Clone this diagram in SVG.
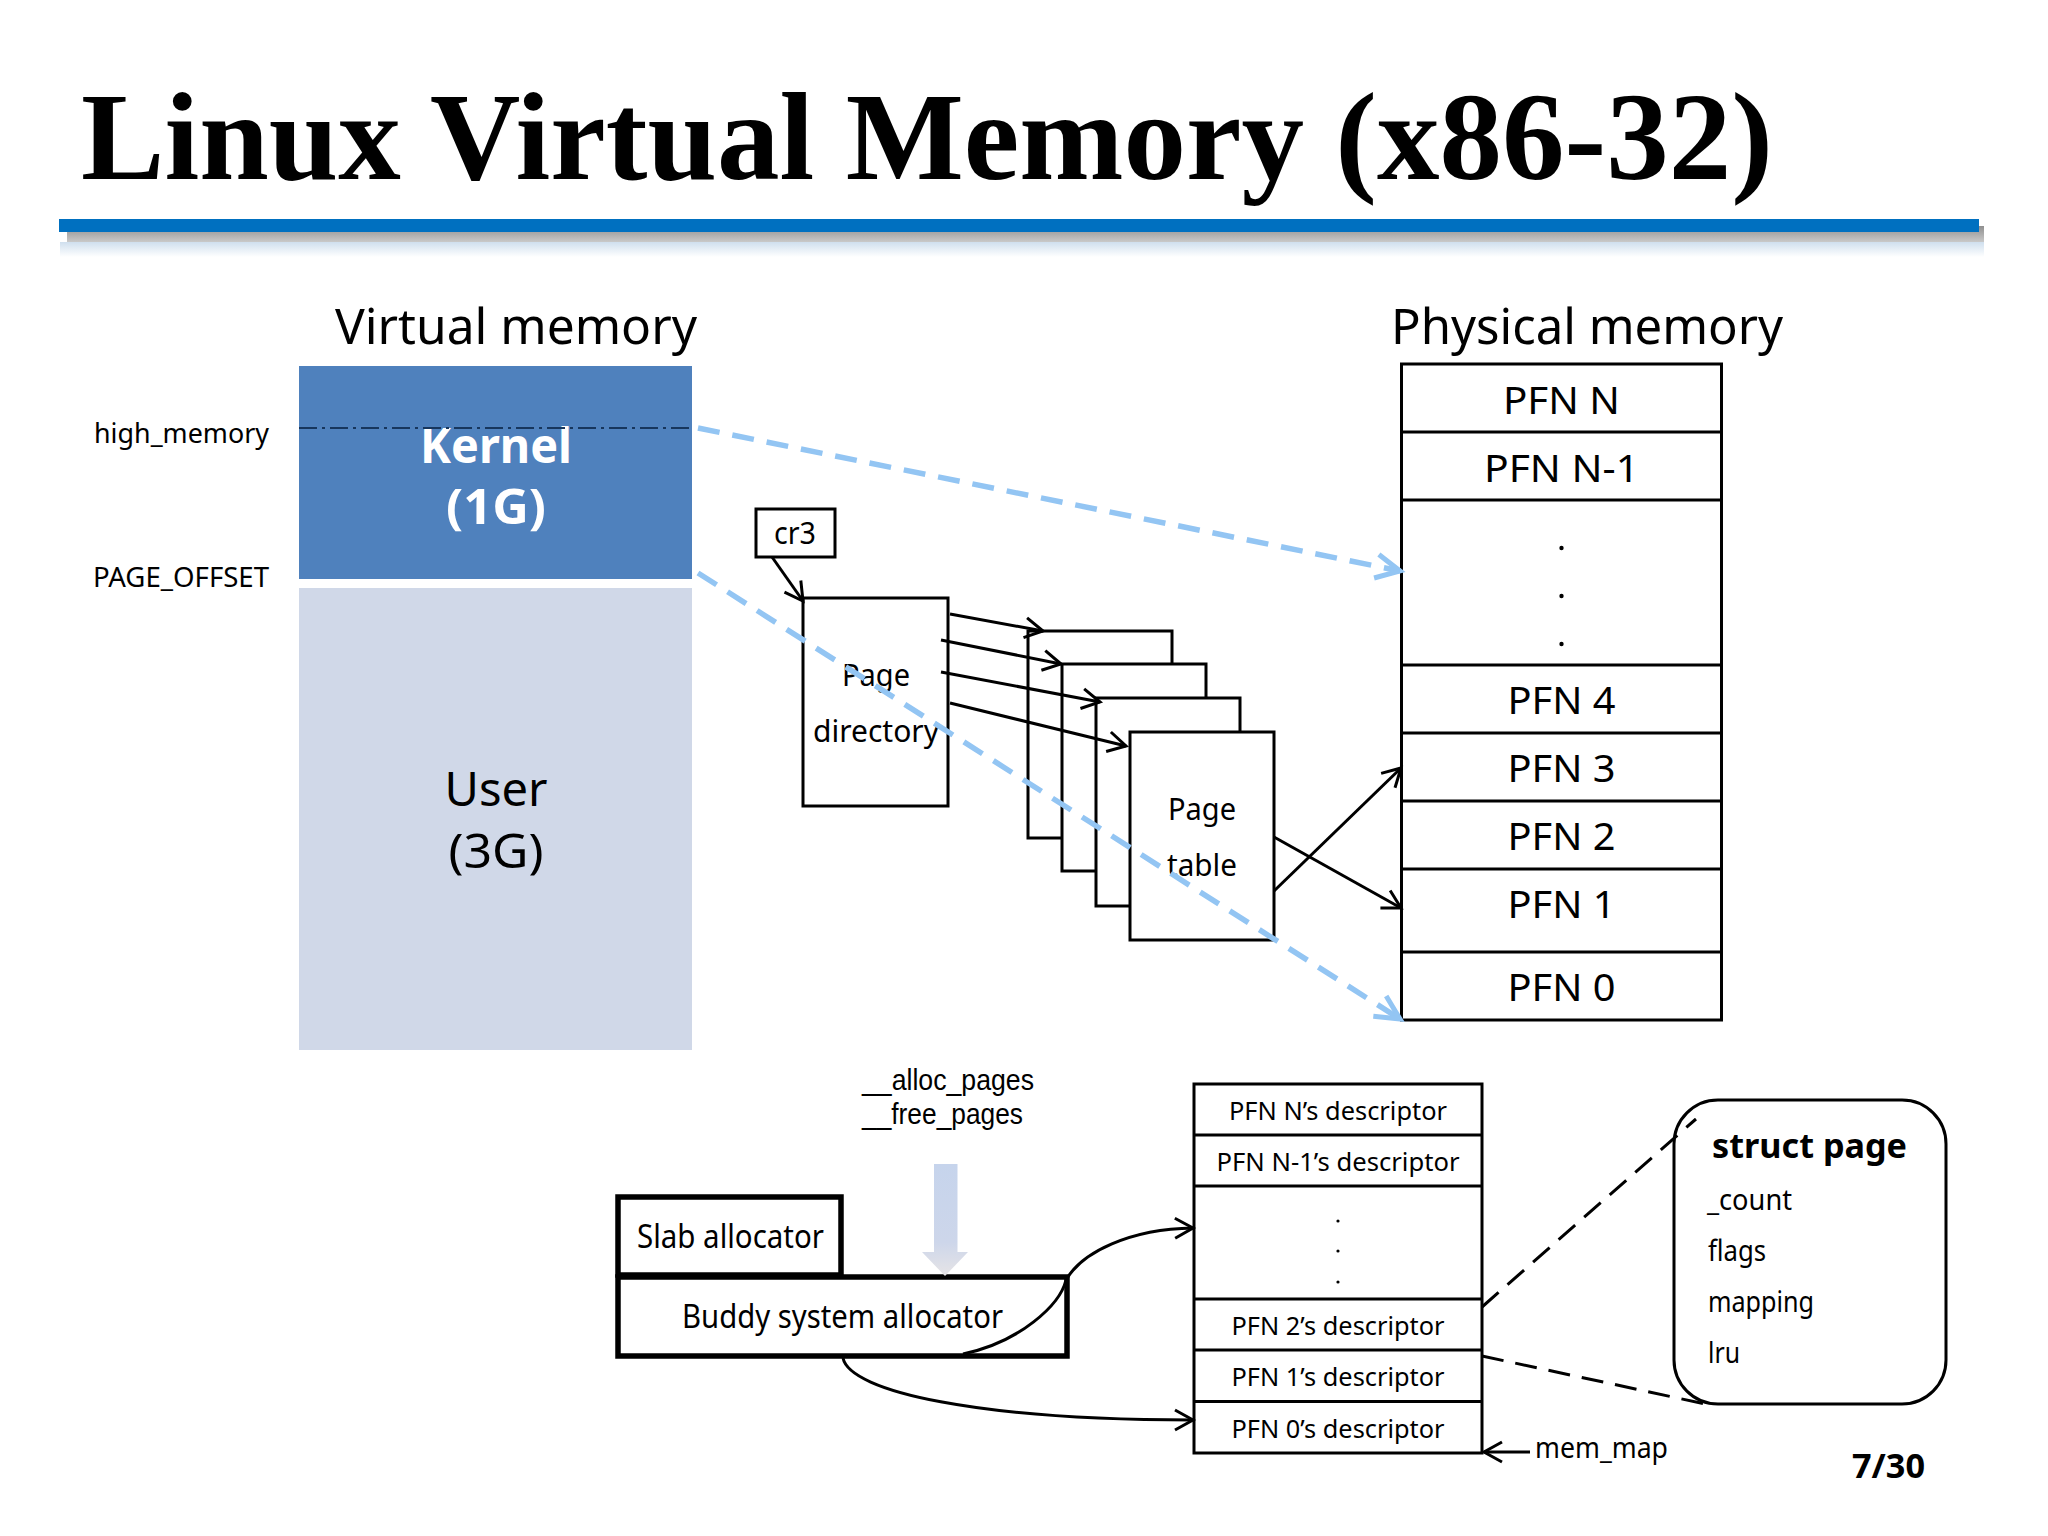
<svg xmlns="http://www.w3.org/2000/svg" width="2048" height="1536" viewBox="0 0 2048 1536">
<style>
text{font-family:"Noto Sans","Open Sans","DejaVu Sans",sans-serif;fill:#000}
.c{text-anchor:middle}
.box{fill:#fff;stroke:#000;stroke-width:3}
.thick{fill:#fff;stroke:#000;stroke-width:5.5}
.cell{fill:none;stroke:#000;stroke-width:3}
.ln{fill:none;stroke:#000;stroke-width:3;marker-end:url(#open)}
.blue{fill:none;stroke:#93c5f3;stroke-width:5.5;stroke-dasharray:22 13;marker-end:url(#openb)}
.dash{fill:none;stroke:#000;stroke-width:3;stroke-dasharray:22 12}
.pfn{font-size:39px}
.desc{font-size:26px}
.field{font-size:29px}
.lib{font-family:"Liberation Sans","Noto Sans",sans-serif;font-size:29px}
.dot{fill:#000}
</style>
<defs>
<marker id="open" markerUnits="userSpaceOnUse" markerWidth="24" markerHeight="24" viewBox="-22 -12 24 24" refX="0" refY="0" orient="auto" overflow="visible"><path d="M-18,-10 L0,0 L-18,10" fill="none" stroke="#000" stroke-width="3"/></marker>
<marker id="openb" markerUnits="userSpaceOnUse" markerWidth="32" markerHeight="32" viewBox="-29 -16 32 32" refX="0" refY="0" orient="auto" overflow="visible"><path d="M-24,-12 L0,0 L-24,12" fill="none" stroke="#93c5f3" stroke-width="5"/></marker>
<linearGradient id="shadow" x1="0" y1="0" x2="0" y2="1"><stop offset="0" stop-color="#8f8f8f"/><stop offset="1" stop-color="#c9c9c9"/></linearGradient>
<linearGradient id="refl" x1="0" y1="0" x2="0" y2="1"><stop offset="0" stop-color="#cfdfee"/><stop offset="1" stop-color="#fff"/></linearGradient>
<linearGradient id="block" x1="0" y1="0" x2="0" y2="1"><stop offset="0" stop-color="#c6d4ec"/><stop offset="0.7" stop-color="#cdd6ea"/><stop offset="1" stop-color="#e6e4e6"/></linearGradient>
</defs>
<rect width="2048" height="1536" fill="#fff"/>
<g id="title">
<text x="81" y="179" font-size="124" font-weight="700" textLength="1692" lengthAdjust="spacingAndGlyphs" style="font-family:'Liberation Serif','Times New Roman',serif">Linux Virtual Memory (x86-32)</text>
<rect x="60" y="242" width="1924" height="15" fill="url(#refl)"/>
<rect x="67" y="226" width="1917" height="16" fill="url(#shadow)"/>
<rect x="59" y="219" width="1920" height="13" fill="#0070c0"/>
</g>
<g id="virtual-memory">
<text x="335" y="344" font-size="50" textLength="362" lengthAdjust="spacingAndGlyphs">Virtual memory</text>
<text x="94" y="443" font-size="28" textLength="175" lengthAdjust="spacingAndGlyphs">high_memory</text>
<text x="93" y="587" font-size="28" textLength="176" lengthAdjust="spacingAndGlyphs">PAGE_OFFSET</text>
<g id="kernel"><rect x="299" y="366" width="393" height="213" fill="#4f81bd"/>
<text class="c" x="496" y="463" font-size="48" font-weight="700" style="fill:#fff" textLength="152" lengthAdjust="spacingAndGlyphs">Kernel</text>
<text class="c" x="496" y="524" font-size="48" font-weight="700" style="fill:#fff" textLength="100" lengthAdjust="spacingAndGlyphs">(1G)</text></g>
<g id="user"><rect x="299" y="588" width="393" height="462" fill="#d0d8e8"/>
<text class="c" x="496" y="806" font-size="48" textLength="103" lengthAdjust="spacingAndGlyphs">User</text>
<text class="c" x="496" y="868" font-size="48" textLength="95" lengthAdjust="spacingAndGlyphs">(3G)</text></g>
</g>
<g id="cr3"><rect class="box" x="756" y="509" width="79" height="48"/><text class="c" x="795" y="544" font-size="30" textLength="42" lengthAdjust="spacingAndGlyphs">cr3</text></g>
<g id="page-directory"><rect class="box" x="803" y="598" width="145" height="208"/>
<text class="c" x="876" y="686" font-size="30" textLength="68" lengthAdjust="spacingAndGlyphs">Page</text>
<text class="c" x="876" y="742" font-size="30" textLength="126" lengthAdjust="spacingAndGlyphs">directory</text></g>
<g id="page-table-1"><rect class="box" x="1028" y="631" width="144" height="207"/></g>
<g id="page-table-2"><rect class="box" x="1062" y="664" width="144" height="207"/></g>
<g id="page-table-3"><rect class="box" x="1096" y="698" width="144" height="208"/></g>
<g id="page-table-4"><rect class="box" x="1130" y="732" width="144" height="208"/>
<text class="c" x="1202" y="820" font-size="30" textLength="68" lengthAdjust="spacingAndGlyphs">Page</text>
<text class="c" x="1202" y="876" font-size="30" textLength="70" lengthAdjust="spacingAndGlyphs">table</text></g>
<g id="physical-memory">
<text x="1391" y="344" font-size="50" textLength="392" lengthAdjust="spacingAndGlyphs">Physical memory</text>
<rect class="cell" x="1401.500" y="364" width="320" height="656"/>
<path class="cell" d="M1401.500 432H1721.500M1401.500 500H1721.500M1401.500 665H1721.500M1401.500 733H1721.500M1401.500 801H1721.500M1401.500 869H1721.500M1401.500 952H1721.500"/>
<text class="c pfn" x="1561.500" y="414" textLength="117" lengthAdjust="spacingAndGlyphs">PFN N</text>
<text class="c pfn" x="1561.500" y="481.500" textLength="155" lengthAdjust="spacingAndGlyphs">PFN N-1</text>
<circle class="dot" cx="1561.500" cy="548" r="2.200"/><circle class="dot" cx="1561.500" cy="596" r="2.200"/><circle class="dot" cx="1561.500" cy="644" r="2.200"/>
<text class="c pfn" x="1561.500" y="714" textLength="108" lengthAdjust="spacingAndGlyphs">PFN 4</text>
<text class="c pfn" x="1561.500" y="782" textLength="108" lengthAdjust="spacingAndGlyphs">PFN 3</text>
<text class="c pfn" x="1561.500" y="850" textLength="108" lengthAdjust="spacingAndGlyphs">PFN 2</text>
<text class="c pfn" x="1561.500" y="918" textLength="108" lengthAdjust="spacingAndGlyphs">PFN 1</text>
<text class="c pfn" x="1561.500" y="1001" textLength="108" lengthAdjust="spacingAndGlyphs">PFN 0</text>
</g>
<g id="slab"><rect class="thick" x="622" y="1199" width="223" height="78" transform="translate(-4 -2)"/><text x="637" y="1248" font-size="32" textLength="187" lengthAdjust="spacingAndGlyphs">Slab allocator</text></g>
<g id="buddy"><rect class="thick" x="618" y="1277" width="449" height="79"/><text x="682" y="1328" font-size="32" textLength="321" lengthAdjust="spacingAndGlyphs">Buddy system allocator</text></g>
<g id="alloc-labels">
<text class="lib" x="862" y="1090" textLength="172" lengthAdjust="spacingAndGlyphs">__alloc_pages</text>
<text class="lib" x="862" y="1124" textLength="161" lengthAdjust="spacingAndGlyphs">__free_pages</text>
</g>
<g id="alloc-arrow"><polygon points="934,1164 957.500,1164 957.500,1252 968,1252 945,1276 922,1252 934,1252" fill="url(#block)"/></g>
<g id="descriptor-table">
<rect class="cell" x="1194" y="1084" width="288" height="369"/>
<path class="cell" d="M1194 1135H1482M1194 1186H1482M1194 1299H1482M1194 1350H1482M1194 1401.500H1482"/>
<text class="c desc" x="1338" y="1120" textLength="218" lengthAdjust="spacingAndGlyphs">PFN N’s descriptor</text>
<text class="c desc" x="1338" y="1171" textLength="243" lengthAdjust="spacingAndGlyphs">PFN N-1’s descriptor</text>
<circle class="dot" cx="1338" cy="1221" r="1.600"/><circle class="dot" cx="1338" cy="1251" r="1.600"/><circle class="dot" cx="1338" cy="1282" r="1.600"/>
<text class="c desc" x="1338" y="1335" textLength="213" lengthAdjust="spacingAndGlyphs">PFN 2’s descriptor</text>
<text class="c desc" x="1338" y="1386" textLength="213" lengthAdjust="spacingAndGlyphs">PFN 1’s descriptor</text>
<text class="c desc" x="1338" y="1438" textLength="213" lengthAdjust="spacingAndGlyphs">PFN 0’s descriptor</text>
</g>
<g id="struct-page"><rect x="1674" y="1100" width="272" height="304" rx="44" ry="44" fill="#fff" stroke="#000" stroke-width="3"/>
<text x="1712" y="1158" font-size="34" font-weight="700" textLength="195" lengthAdjust="spacingAndGlyphs">struct page</text>
<text class="field" x="1707" y="1210" textLength="85" lengthAdjust="spacingAndGlyphs">_count</text>
<text class="field" x="1708" y="1261" textLength="58" lengthAdjust="spacingAndGlyphs">flags</text>
<text class="field" x="1708" y="1312" textLength="106" lengthAdjust="spacingAndGlyphs">mapping</text>
<text class="field" x="1708" y="1363" textLength="32" lengthAdjust="spacingAndGlyphs">lru</text></g>
<g id="mem-map"><text x="1535" y="1458" font-size="29" textLength="133" lengthAdjust="spacingAndGlyphs">mem_map</text></g>
<g id="page-number"><text x="1852" y="1478" font-size="34" font-weight="700" textLength="73" lengthAdjust="spacingAndGlyphs">7/30</text></g>
<g id="connectors">
<path d="M299 428H692" fill="none" stroke="#17365d" stroke-width="1.800" stroke-dasharray="18 5 3 5"/>
<path class="blue" d="M698 428L1400 571"/>
<path class="blue" d="M698 573L1400 1019"/>
<path class="ln" d="M772 557L803 601"/>
<path class="ln" d="M950 614L1043 631"/>
<path class="ln" d="M941 640L1061 664"/>
<path class="ln" d="M941 672L1100 702"/>
<path class="ln" d="M950 703L1126 746"/>
<path class="ln" d="M1274 837L1401 908"/>
<path class="ln" d="M1274 891L1401 768"/>
<path class="ln" d="M963 1354C1020 1342 1060 1305 1066 1280C1082 1252 1130 1229 1193 1228"/>
<path class="ln" d="M843 1358C850 1392 980 1420 1193 1420"/>
<path class="ln" d="M1530 1452H1484"/>
<path class="dash" d="M1482 1307L1696 1119"/>
<path class="dash" d="M1482 1356L1710 1405"/>
</g>
</svg>
